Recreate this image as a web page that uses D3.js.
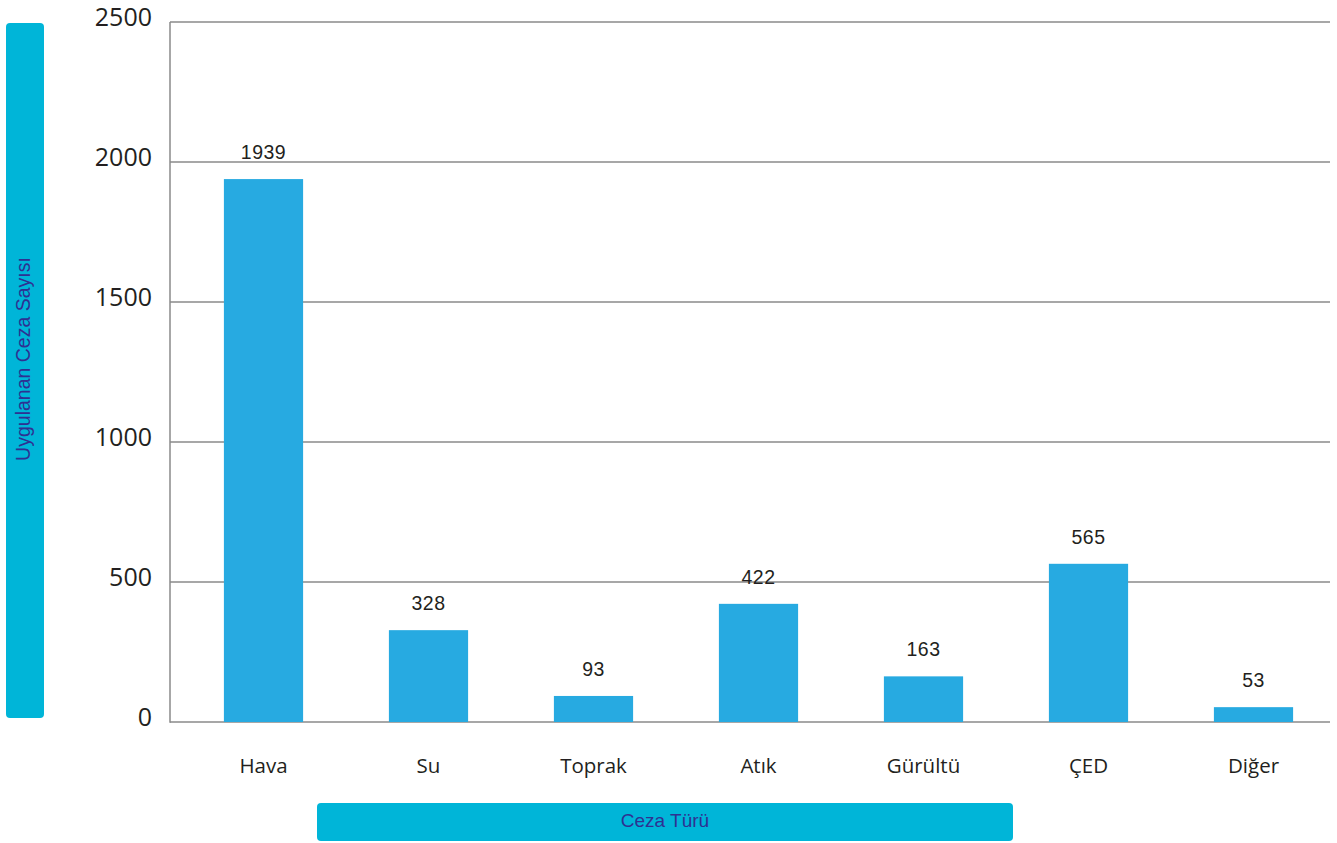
<!DOCTYPE html>
<html><head><meta charset="utf-8">
<script src="https://cdn.jsdelivr.net/npm/d3@7"></script>
<style>html,body{margin:0;padding:0;background:#fff;}svg{display:block;}</style>
</head><body>
<script>
const categories = ["Hava","Su","Toprak","Atık","Gürültü","ÇED","Diğer"];
const values = [1939,328,93,422,163,565,53];
const yTicks = [0,500,1000,1500,2000,2500];
const yTitle = "Uygulanan Ceza Sayısı";
const xTitle = "Ceza Türü";

const W=1337,H=843;
const svg=d3.select("body").append("svg").attr("width",W).attr("height",H);
const y=d3.scaleLinear().domain([0,2500]).range([722,22]);
const x=d3.scaleBand().domain(categories).range([181,1336]).paddingInner(0.52).paddingOuter(0.26);

// gridlines
svg.append("g").selectAll("line").data(yTicks).join("line")
  .attr("x1",170).attr("x2",1330).attr("y1",d=>y(d)).attr("y2",d=>y(d))
  .attr("stroke","#8a8a8a").attr("stroke-width",1.5);
svg.append("line").attr("x1",170).attr("x2",170).attr("y1",y(2500)).attr("y2",y(0)+0.75)
  .attr("stroke","#8a8a8a").attr("stroke-width",1.5);

// y tick labels
svg.append("g").selectAll("text").data(yTicks).join("text")
  .attr("x",152).attr("y",d=>y(d)+4).attr("text-anchor","end")
  .attr("font-family","Open Sans, sans-serif").attr("font-size",25).attr("fill","#231f20")
  .text(d=>d);

// bars
svg.append("g").selectAll("rect").data(values).join("rect")
  .attr("x",(d,i)=>x(categories[i])).attr("width",x.bandwidth())
  .attr("y",d=>y(d)).attr("height",d=>y(0)-y(d)).attr("fill","#27aae1");

// value labels
svg.append("g").selectAll("text").data(values).join("text")
  .attr("x",(d,i)=>x(categories[i])+x.bandwidth()/2).attr("y",d=>y(d)-20)
  .attr("text-anchor","middle").attr("font-family","Liberation Sans, Arial, sans-serif")
  .attr("font-size",19.5).attr("letter-spacing",0.5).attr("fill","#231f20").text(d=>d);

// category labels
svg.append("g").selectAll("text").data(categories).join("text")
  .attr("x",d=>x(d)+x.bandwidth()/2).attr("y",773)
  .attr("text-anchor","middle").attr("font-family","Open Sans, sans-serif")
  .attr("font-size",20.5).attr("fill","#231f20").text(d=>d);

// y title box
svg.append("rect").attr("x",6).attr("y",23).attr("width",38).attr("height",695).attr("rx",4)
  .attr("fill","#00b5d8");
svg.append("text").attr("transform","translate(29.5,359) rotate(-90)")
  .attr("text-anchor","middle").attr("font-family","Liberation Sans, Arial, sans-serif")
  .attr("font-size",19.5).attr("fill","#2e3192").text(yTitle);

// x title box
svg.append("rect").attr("x",317).attr("y",803).attr("width",696).attr("height",38).attr("rx",4)
  .attr("fill","#00b5d8");
svg.append("text").attr("x",665).attr("y",827)
  .attr("text-anchor","middle").attr("font-family","Liberation Sans, Arial, sans-serif")
  .attr("font-size",19).attr("fill","#2e3192").text(xTitle);
</script>
</body></html>
